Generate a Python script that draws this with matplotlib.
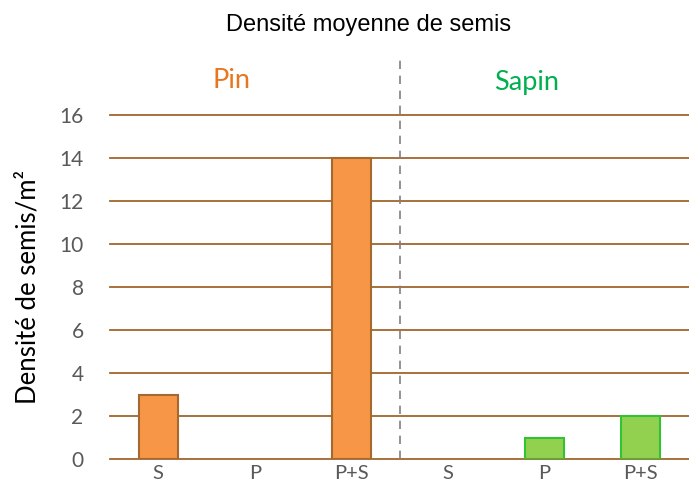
import matplotlib
matplotlib.use("Agg")
import matplotlib.pyplot as plt
import matplotlib.transforms as mtransforms

categories = ["S", "P", "P+S", "S", "P", "P+S"]
pin_values = [3, 0, 14]
sapin_values = [0, 1, 2]
yticks = [0, 2, 4, 6, 8, 10, 12, 14, 16]
group_labels = ["Pin", "Sapin"]

fig = plt.figure(figsize=(6.89, 4.90), dpi=100)
ax = fig.add_axes([110/689, 1-459/490, 1-110/689, (459-115)/490])

grid_col = "#A0662C"
for y in yticks:
    ax.axhline(y, color=grid_col, lw=1.3, zorder=1, clip_on=False)

xp = list(range(3))
xs = list(range(3, 6))
ax.bar(xp, pin_values, width=0.4, color="#F79646", edgecolor="#A5692F",
       lw=[1.5 if v else 0 for v in pin_values], zorder=3)
ax.bar(xs, sapin_values, width=0.4, color="#92D050", edgecolor="#33C233",
       lw=[1.5 if v else 0 for v in sapin_values], zorder=3)

ax.set_xlim(-0.5, 5.5)
ax.set_ylim(0, 16)
for s in ax.spines.values():
    s.set_visible(False)

ax.set_yticks(yticks)
ax.set_yticklabels([str(v) for v in yticks], family="Lato", fontsize=15, color="#595959")
ax.set_xticks(range(6))
ax.set_xticklabels(categories, family="Lato", fontsize=14.5, color="#595959")
ax.tick_params(axis="y", length=0, pad=19)
ax.tick_params(axis="x", length=0, pad=4)

ax.set_ylabel("Densité de semis/m²", family="Lato", fontsize=18.5, color="black")
ax.yaxis.set_label_coords(-(110-41)/579, 0.5)

trans = mtransforms.blended_transform_factory(ax.transData, ax.transAxes)
ax.plot([2.5, 2.5], [0, (459-58)/344], transform=trans, color="#808080", lw=1.2,
        ls=(0, (5, 4)), clip_on=False, zorder=2)

ax.text(0.76, (459-80)/344, group_labels[0], transform=trans, family="Lato", fontsize=19.5,
        color="#E8761E", ha="center", va="center")
ax.text(3.82, (459-82)/344, group_labels[1], transform=trans, family="Lato", fontsize=19.5,
        color="#00B050", ha="center", va="center")

fig.text(369/689, 1-25/490, "Densité moyenne de semis", family="Liberation Sans", fontsize=17,
         ha="center", va="center", color="black")

fig.savefig("out.png", dpi=100)
